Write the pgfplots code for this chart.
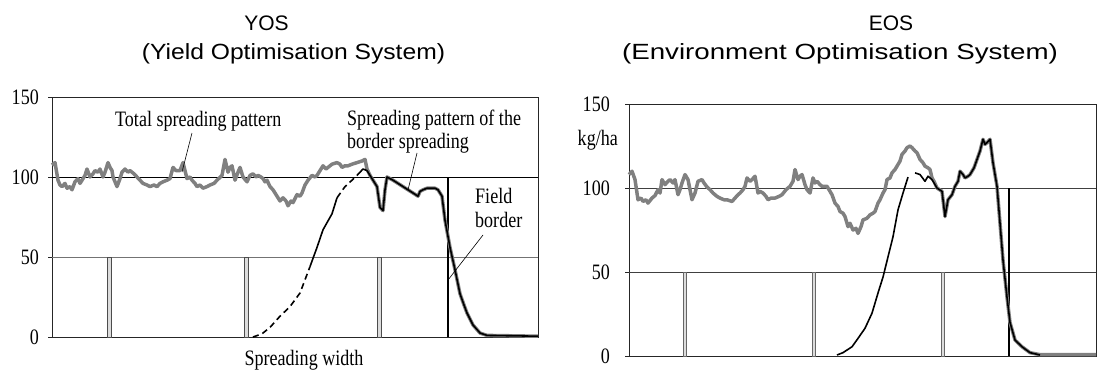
\documentclass[border=0pt]{standalone}
\usepackage{fontspec}
\setmainfont{Liberation Serif}[FakeStretch=0.82]
\newfontfamily\titleA{Liberation Sans}
\newfontfamily\titleL{Liberation Sans}[FakeStretch=1.12]
\newfontfamily\titleR{Liberation Sans}[FakeStretch=1.26]
\usepackage{pgfplots}
\pgfplotsset{compat=1.18}
\definecolor{totgray}{RGB}{128,128,128}
\definecolor{barfill}{RGB}{220,220,220}
\begin{document}
\begin{tikzpicture}[x=1pt,y=1pt]
\path[use as bounding box] (0,0) rectangle (1099,373);
\pgfplotsset{
  myax/.style={
    scale only axis, anchor=origin,
    ymin=0, ymax=150, ytick={0,50,100,150}, xtick=\empty,
    ytick pos=left, tick align=outside, major tick length=4pt,
    /pgf/number format/assume math mode=true,
    yticklabel style={font=\fontsize{22}{24}\selectfont, inner sep=0pt, xshift=-9pt},
    axis line style={black!85, line width=0.8pt},
    major tick style={black!85, line width=0.8pt},
    clip=false,
  }
}
% ---------------- LEFT: YOS ----------------
\begin{axis}[myax, at={(52pt,36pt)}, width=486pt, height=240pt, xmin=0, xmax=486]
\addplot[black, line width=0.9pt] coordinates {(0,100) (486,100)};
\addplot[black!55, line width=0.9pt] coordinates {(0,50) (486,50)};
\addplot[ybar, bar width=4pt, fill=barfill, draw=black!70, line width=0.6pt] coordinates {(57,50) (194,50) (327,50)};
\addplot[black, line width=1.6pt] coordinates {(396,0) (396,100)};
% total spreading pattern
\addplot[totgray, line width=3.5pt, line join=round] coordinates {
(0,107.5)(3,109)(6,98)(8,95)(10,94)(13,96)(15,93)(18,94)(20,92)(23,97)(26,99)(28,96)(30,98)(33,101)(35,105)(38,100)(41,102)(43,104)(46,103)(48,105)(51,100)(53,103)(56,109)(58,106)(60,104)(61,100)(63,97)(65,94)(68,99)(70,103)(73,105)(76,103)(78,104)(82,102)(85,100)(88,98)(91,96)(95,95)(98,94)(102,95)(105,94)(108,96)(111,97)(115,98)(118,99)(121,106)(124,104)(128,104)(131,109)(133,104)(135,99)(138,100)(140,98)(143,96)(145,94)(148,95)(151,93)(155,94)(158,95)(162,96)(165,98)(170,101)(173,111)(176,103)(178,106)(180,107)(183,98)(186,103)(188,106)(191,100)(195,97)(198,101)(201,102)(204,100)(206,101)(209,100)(211,99)(213,97)(215,98)(218,94)(221,92)(223,90)(226,87)(228,85)(231,87)(234,85)(236,82)(239,85)(241,84)(245,89)(248,88)(250,90)(253,95)(256,98)(260,101)(263,100)(265,101)(268,104)(271,107)(274,105)(276,106)(280,108)(285,109)(288,108)(290,106)(293,107)(296,107)(300,108)(305,109)(310,110)(313,111)(315,105)
(318,101)(322,97)(325,94)(328,81)(331,79)(333,92)(335,100)(338,99)(341,98)(346,96)(351,94)(356,92)(361,90)(366,88)(368,91)(371,92)(375,93)(378,93)(383,93)(386,92)(390,88)(393,73)(398,56)(403,42)(408,27)(412,20)(415,15)(421,7.5)(428,2.5)(435,1)(486,0.5)};
% border spreading
\addplot[black, line width=1.6pt, dash pattern=on 6pt off 4pt] coordinates {(201,0)(210,2)(218,6)(228,13)(238,19)(248,27.5)(258,44)};
\addplot[black, line width=1.6pt] coordinates {(258,44)(265,56)(271,67)(280,77)(285,87)};
\addplot[black, line width=1.6pt, dash pattern=on 6pt off 4pt] coordinates {(285,87)(293,94)(300,98)(305,101)};
\addplot[black, line width=1.6pt, line join=round] coordinates {(305,101)(311,105)(315,104)
(318,101)(322,97)(325,94)(328,81)(331,79)(333,92)(335,100)(338,99)(341,98)(346,96)(351,94)(356,92)(361,90)(366,88)(368,91)(371,92)(375,93)(378,93)(383,93)(386,92)(390,88)(393,73)(398,56)(403,42)(408,27)(412,20)(415,15)(421,7.5)(428,2.5)(435,1)(486,0.5)};
\end{axis}
% ---------------- RIGHT: EOS ----------------
\begin{axis}[myax, at={(629pt,17pt)}, width=467pt, height=252pt, xmin=0, xmax=467,
  yticklabel style={xshift=-6pt}]
\addplot[black!75, line width=0.9pt] coordinates {(0,100) (467,100)};
\addplot[black!75, line width=0.9pt] coordinates {(0,50) (467,50)};
\addplot[ybar, bar width=3pt, fill=barfill, draw=black!60, line width=0.6pt] coordinates {(56,50) (185,50) (314,50)};
\addplot[black, line width=1.8pt] coordinates {(380,0) (380,100)};
\addplot[totgray, line width=3.5pt, line join=round] coordinates {
(0,108)(3,110)(6,105)(9,93)(12,94)(14,92)(17,93)(19,91)(23,94)(26,95.5)(29,99)(31,97)(33,105)(36,102)(39,104)(41,105)(44,103)(46,105)(49,96)(51,99)(53,103)(56,108)(59,105)(61,99)(63,93)(66,97)(69,104)(73,105)(75,103)(78,100.6)(81,99)(84,97)(88,95)(91,94)(95,93)(98,93)(103,92)(106,94)(109,96)(111,97)(114,99)(116,101)(118,106)(121,104)(123,105)(126,107)(129,97)(131,98)(134,97)(137,95)(139,93)(142,94)(146,94)(150,95)(153,96)(157,99)(161,101)(164,104)(166,111)(169,105)(171,107)(173,108)(176,102)(178,99)(181,97)(184,106)(186,103)(188,104)(191,102)(193,101)(198,101)(201,98)(203,96)(206,91)(209,89)(211,86)(214,85)(216,83)(219,77)(221,79)(224,75)(227,76)(229,73)(232,77)(234,81)(238,82)(241,84)(244,85)(246,86)(249,91)(251,93)(254,97)(256,99)(258,105)(261,106)(263,109)(266,111)(268,113)(271,116)(273,120)(276,122)(278,124)(281,125)(283,124)(286,122)(288,121)(291,117)(294,115)(296,113)(299,112)(301,111)(303,106)(305,104)(308,100)
(313,98)(316,83)(319,93)(323,96)(326,101)(329,104)(331,110)(334,108)(336,106)(339,107)(341,108)(345,112)(348,117)(351,122)(354,129)(356,126)(358,127)(361,129)(364,115)(368,101)(371,79)(374,57)(378,35)(381,20)(386,9.5)(393,5.5)(401,2)(411,0.8)(467,0.8)};
\addplot[black, line width=1.6pt, line join=round] coordinates {(208,0.6)(214,2)(223,5.5)(229,10.5)(236,16.5)(243,25.5)(249,37.5)(254,47)(259,59)(264,71)(269,87)(274,97)(279,106.5)};
\addplot[black, line width=1.6pt, line join=round] coordinates {(286,109)(291,108)(296,104)(299,107)(303,105)(308,100)
(313,98)(316,83)(319,93)(323,96)(326,101)(329,104)(331,110)(334,108)(336,106)(339,107)(341,108)(345,112)(348,117)(351,122)(354,129)(356,126)(358,127)(361,129)(364,115)(368,101)(371,79)(374,57)(378,35)(381,20)(386,9.5)(393,5.5)(401,2)(411,0.6)};
\end{axis}
% ---------------- texts ----------------
\node[anchor=base, inner sep=0pt, font=\titleA\fontsize{21}{23}\selectfont] at (266.5,342) {YOS};
\node[anchor=base, inner sep=0pt, font=\titleL\fontsize{22}{24}\selectfont] at (293.5,313) {(Yield Optimisation System)};
\node[anchor=base, inner sep=0pt, font=\titleA\fontsize{21}{23}\selectfont] at (891,342) {EOS};
\node[anchor=base, inner sep=0pt, font=\titleR\fontsize{22}{24}\selectfont] at (840,313) {(Environment Optimisation System)};
\begin{scope}[every node/.style={inner sep=0pt, font=\fontsize{22}{24}\selectfont}]
\node[anchor=base west] at (115,247) {Total spreading pattern};
\draw[black, line width=0.6pt] (192,240) -- (182,201);
\node[anchor=base west] at (347,248) {Spreading pattern of the};
\node[anchor=base west] at (347,225) {border spreading};
\draw[black, line width=0.6pt] (417,220) -- (408,183);
\node[anchor=base west] at (475,170) {Field};
\node[anchor=base west] at (475,146) {border};
\draw[black, line width=0.6pt] (483,138) -- (448,93);
\node[anchor=base] at (304,8) {Spreading width};
\node[anchor=base east] at (618,228) {kg/ha};
\end{scope}
\end{tikzpicture}
\end{document}
